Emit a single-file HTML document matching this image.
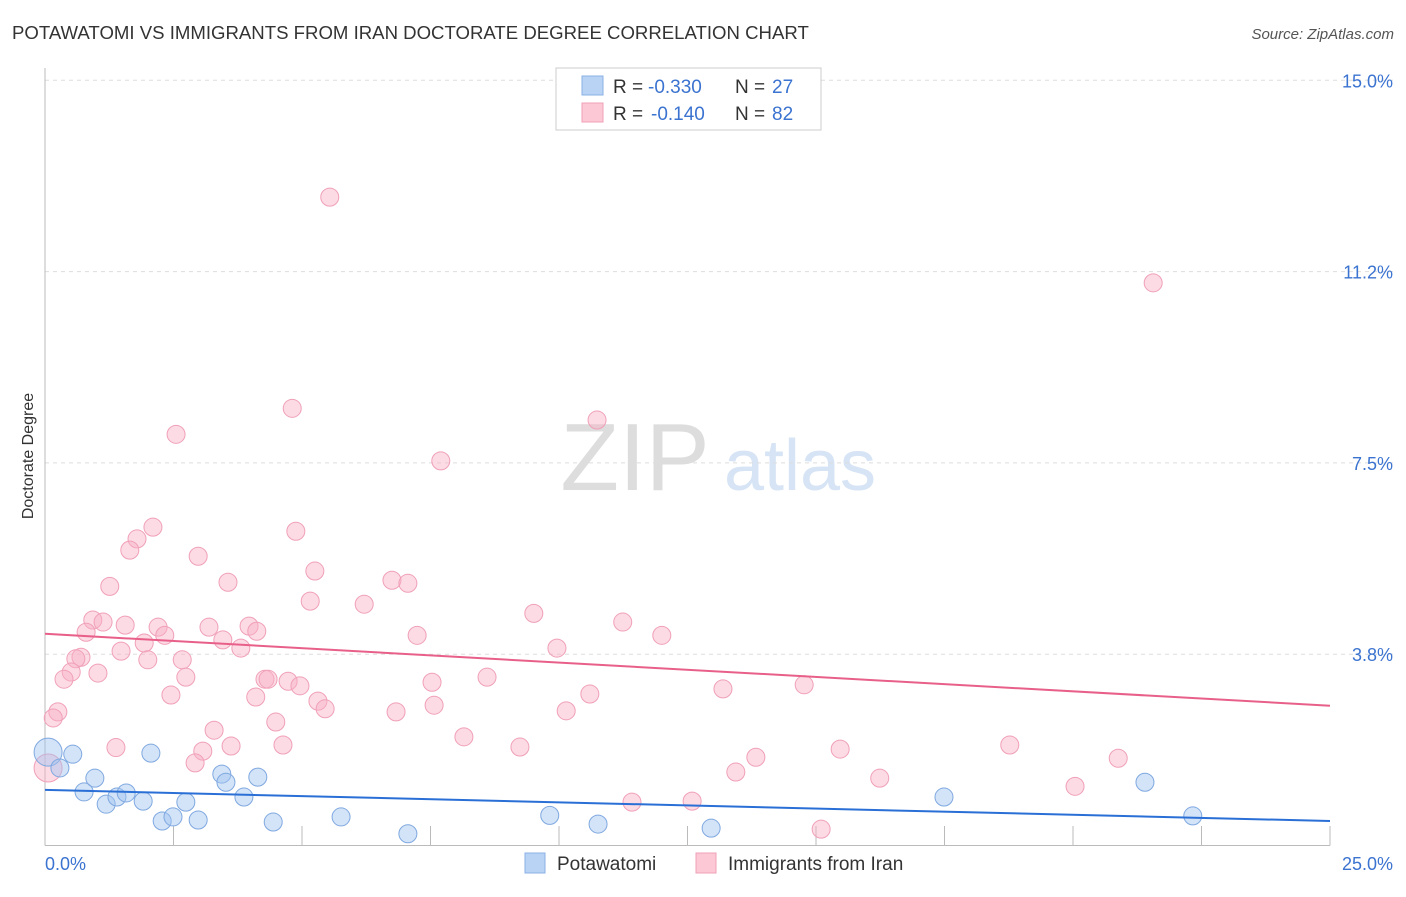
<!DOCTYPE html>
<html><head><meta charset="utf-8"><style>
body{margin:0;background:#fff;font-family:"Liberation Sans",sans-serif;}
svg text{font-family:"Liberation Sans",sans-serif;}
</style></head><body>
<svg id="chart" width="1406" height="892" xmlns="http://www.w3.org/2000/svg">
<text x="12" y="39" font-size="18.6" fill="#333">POTAWATOMI VS IMMIGRANTS FROM IRAN DOCTORATE DEGREE CORRELATION CHART</text>
<text x="1394" y="39" font-size="15" fill="#555" font-style="italic" text-anchor="end">Source: ZipAtlas.com</text>
<text transform="translate(33,456) rotate(-90)" font-size="16" fill="#333" text-anchor="middle">Doctorate Degree</text>
<g>
<text x="635" y="490" font-size="96" fill="#ddd" font-family="Liberation Serif,serif" text-anchor="middle">ZIP</text>
<text x="800" y="490" font-size="72" fill="#d6e4f5" text-anchor="middle">atlas</text>
</g>
<g id="grid"></g><g id="axes"></g><g id="pts"></g><g id="trend"></g>
<g>
<rect x="556" y="68" width="265" height="62" fill="#fff" stroke="#ccc"/>
<rect x="582" y="76" width="21" height="19" fill="#b9d3f5" stroke="#8ab0e6"/>
<text x="613" y="93" font-size="19" fill="#333">R =</text>
<text x="648" y="93" font-size="19" fill="#3b73d0">-0.330</text>
<text x="735" y="93" font-size="19" fill="#333">N =</text>
<text x="772" y="93" font-size="19" fill="#3b73d0">27</text>
<rect x="582" y="103" width="21" height="19" fill="#fcc8d6" stroke="#f0a0b8"/>
<text x="613" y="120" font-size="19" fill="#333">R =</text>
<text x="651" y="120" font-size="19" fill="#3b73d0">-0.140</text>
<text x="735" y="120" font-size="19" fill="#333">N =</text>
<text x="772" y="120" font-size="19" fill="#3b73d0">82</text>
</g>
<g>
<rect x="525" y="853" width="20" height="20" fill="#b9d3f5" stroke="#8ab0e6"/>
<text x="557" y="870" font-size="19" fill="#333">Potawatomi</text>
<rect x="696" y="853" width="20" height="20" fill="#fcc8d6" stroke="#f0a0b8"/>
<text x="728" y="870" font-size="19" fill="#333">Immigrants from Iran</text>
</g>
</svg>
<script>
const yTicks=[15,11.25,7.5,3.75];
const yTickLabels=["15.0%","11.2%","7.5%","3.8%"];
const xTickLabels=["0.0%","25.0%"];
const blueX=[0.06,0.29,0.54,0.76,0.97,1.19,1.40,1.58,1.91,2.06,2.28,2.49,2.74,2.98,3.44,3.52,3.87,4.14,4.44,5.76,7.06,9.82,10.76,12.96,17.49,21.40,22.33];
const blueY=[1.83,1.52,1.79,1.05,1.32,0.81,0.95,1.03,0.87,1.81,0.48,0.56,0.85,0.50,1.40,1.24,0.95,1.34,0.46,0.56,0.23,0.59,0.42,0.34,0.95,1.24,0.58];
const pinkX=[5.54,21.56,4.81,2.55,10.74,7.70,2.10,4.88,1.79,1.65,2.98,1.26,3.56,5.25,6.75,7.06,5.16,6.21,9.51,0.93,1.13,1.56,0.80,2.20,2.33,3.19,3.97,4.12,3.46,1.93,3.81,7.24,11.24,12.00,9.96,0.70,0.60,1.48,2.00,2.67,0.51,1.03,0.37,2.74,4.28,4.34,4.73,4.96,7.53,8.60,14.77,13.19,0.25,0.16,2.45,4.10,5.31,5.45,7.57,6.83,10.14,10.60,4.49,3.29,1.38,3.07,3.62,4.63,8.15,9.24,2.92,0.06,15.47,18.77,20.88,13.83,13.44,16.24,20.04,11.42,12.59,15.10];
const pinkY=[12.71,11.03,8.57,8.06,8.34,7.54,6.24,6.16,6.01,5.79,5.67,5.08,5.16,5.38,5.20,5.14,4.79,4.73,4.55,4.42,4.38,4.32,4.18,4.28,4.12,4.28,4.30,4.20,4.03,3.97,3.87,4.12,4.38,4.12,3.87,3.69,3.66,3.81,3.64,3.64,3.40,3.38,3.26,3.30,3.26,3.26,3.22,3.13,3.20,3.30,3.15,3.07,2.62,2.50,2.95,2.91,2.83,2.68,2.75,2.62,2.64,2.97,2.42,2.26,1.92,1.85,1.95,1.97,2.13,1.93,1.62,1.52,1.89,1.97,1.71,1.73,1.44,1.32,1.16,0.85,0.87,0.32];
const blueTrend=[1.09,0.48];
const pinkTrend=[4.15,2.74];
const X0=45,X1=1330,Y0=845.5;
const xs=v=>X0+v/25*(X1-X0);
const ys=v=>Y0-v/3.75*191.3;
const NS="http://www.w3.org/2000/svg";
function mk(t,a,p){const e=document.createElementNS(NS,t);for(const k in a)e.setAttribute(k,a[k]);p.appendChild(e);return e;}
const grid=document.getElementById('grid'),axes=document.getElementById('axes'),pts=document.getElementById('pts'),trend=document.getElementById('trend');
yTicks.forEach((t,i)=>{
 const l=mk('line',{x1:X0,x2:1393,y1:ys(t),y2:ys(t),stroke:'#ddd','stroke-dasharray':'4,4'},grid);
 
 
 const tx=mk('text',{x:1393,y:ys(t)+7,'font-size':18,fill:'#3b73d0','text-anchor':'end'},axes);tx.textContent=yTickLabels[i];
 
 
});
const ya=mk('line',{x1:X0,x2:X0,y1:68,y2:Y0,stroke:'#bbb'},axes);


const xa=mk('line',{x1:X0,x2:X1,y1:Y0,y2:Y0,stroke:'#bbb'},axes);


for(let i=1;i<=10;i++){const tk=mk('line',{x1:xs(i*2.5),x2:xs(i*2.5),y1:826,y2:Y0,stroke:'#bbb'},axes);
 
 }
[[0,'start',X0],[1,'end',1393]].forEach(([i,a,x])=>{const t=mk('text',{x:x,y:870,'font-size':18,fill:'#3b73d0','text-anchor':a},axes);t.textContent=xTickLabels[i];
 
 });
pinkX.forEach((v,i)=>{const c=mk('circle',{cx:xs(v),cy:ys(pinkY[i]),r:i==71?14:9,fill:'rgba(248,175,198,0.45)',stroke:'#f0a0b8','stroke-width':1},pts);
 
 });
blueX.forEach((v,i)=>{const c=mk('circle',{cx:xs(v),cy:ys(blueY[i]),r:i==0?14:9,fill:'rgba(160,195,240,0.45)',stroke:'#7fa8e0','stroke-width':1},pts);
 
 });
const pt=mk('line',{x1:X0,x2:X1,y1:ys(pinkTrend[0]),y2:ys(pinkTrend[1]),stroke:'#e8608a','stroke-width':2},trend);


const bt=mk('line',{x1:X0,x2:X1,y1:ys(blueTrend[0]),y2:ys(blueTrend[1]),stroke:'#2a6fd6','stroke-width':2},trend);


</script>
</body></html>
